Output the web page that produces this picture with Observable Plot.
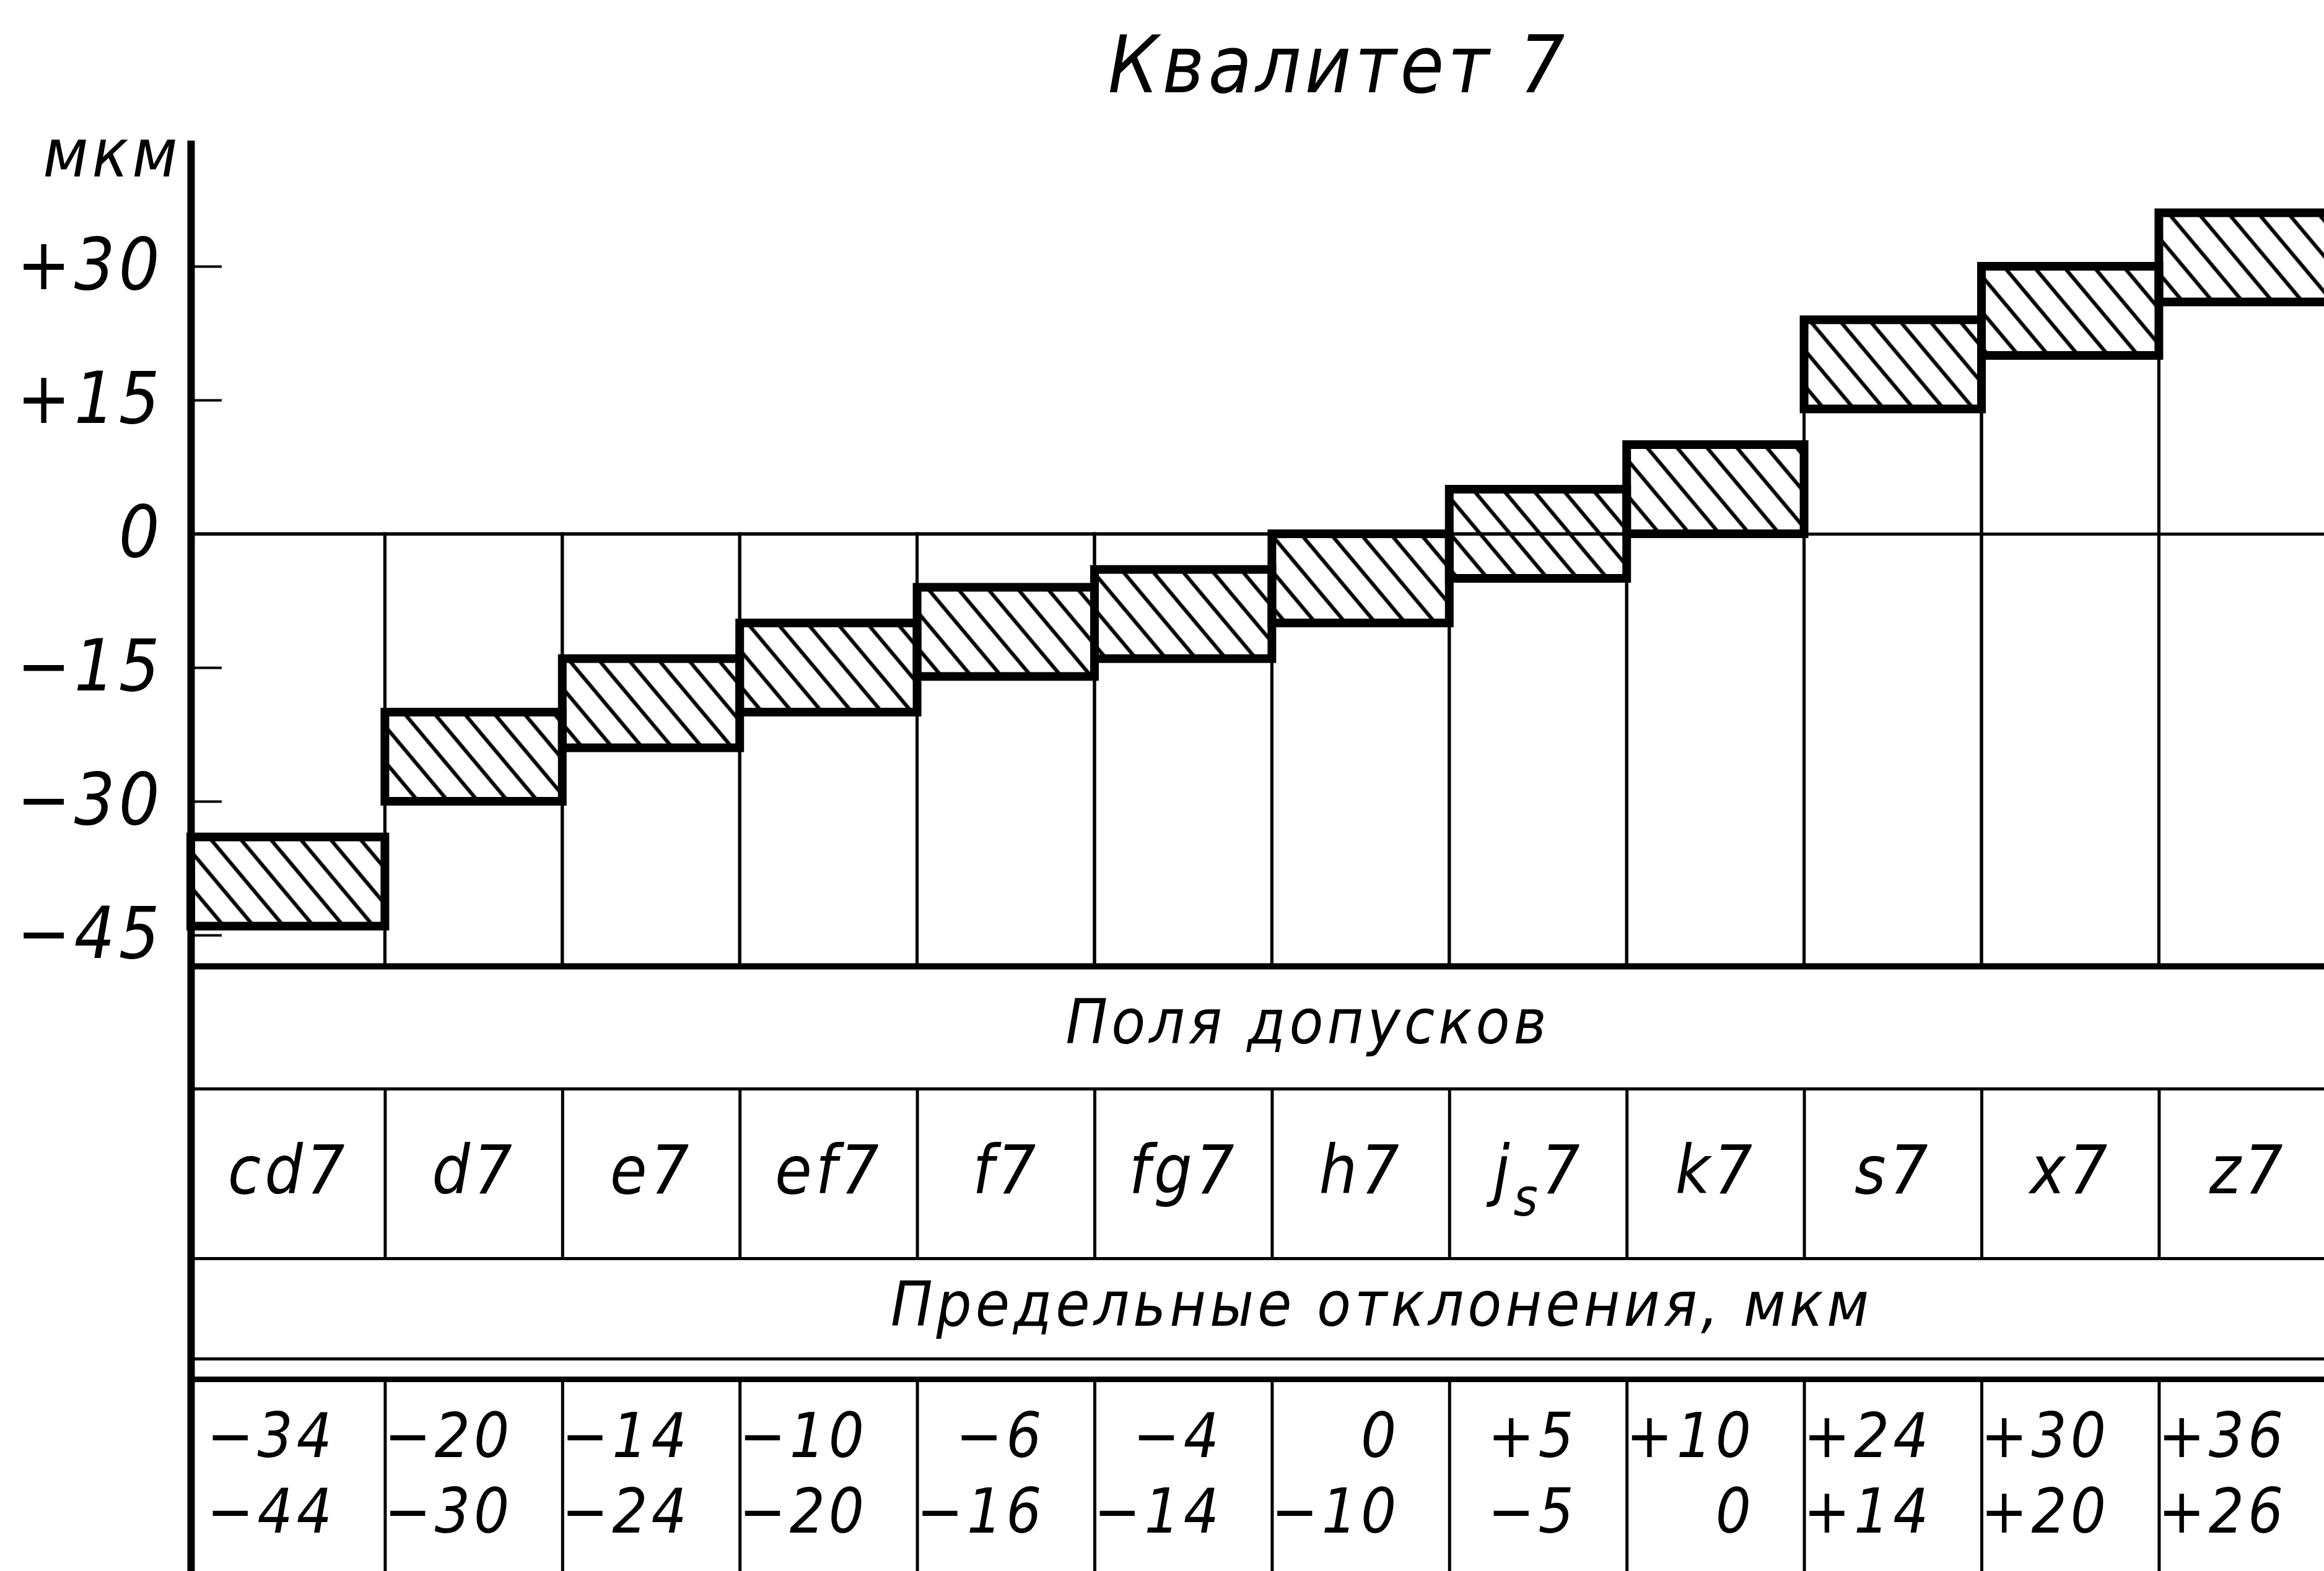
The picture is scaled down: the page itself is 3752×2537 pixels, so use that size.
<!DOCTYPE html>
<html>
<head>
<meta charset="utf-8">
<script src="https://cdn.jsdelivr.net/npm/d3@7"></script>
<script src="https://cdn.jsdelivr.net/npm/@observablehq/plot@0.6"></script>
<style>
  html, body { margin: 0; padding: 0; background: #fff; overflow: hidden; }
  #page svg { display: block; }
</style>
</head>
<body>
<div id="page"></div>
<script>
// ---- data ----
const categories = ["cd7", "d7", "e7", "ef7", "f7", "fg7", "h7", "js7", "k7", "s7", "x7", "z7"];
const upperDeviation = [-34, -20, -14, -10, -6, -4, 0, 5, 10, 24, 30, 36];
const lowerDeviation = [-44, -30, -24, -20, -16, -14, -10, -5, 0, 14, 20, 26];
const yTicks = [30, 15, 0, -15, -30, -45];
const titleText = "Квалитет 7";
const unitText = "мкм";
const rowTitleFields = "Поля допусков";
const rowTitleLimits = "Предельные отклонения, мкм";

const fmt = v => v > 0 ? "+" + v : v < 0 ? "\u2212" + (-v) : "0";

// ---- layout ----
const W = 3752, H = 2537;
const chartH = 1580, tableH = H - chartH;
const left = 308;                 // y-axis line position (px)
const colStartPx = 335, colW = 286.4;
const n = categories.length;
const axisX = (left - colStartPx) / colW;   // axis position in column units
const colStart = i => i === 0 ? axisX : i;
const colMid = i => (colStart(i) + i + 1) / 2;
const rows = categories.map((cat, i) => ({i, cat, es: upperDeviation[i], ei: lowerDeviation[i], x1: colStart(i), x2: i + 1, xm: colMid(i)}));
const boundaries = d3.range(n + 1).map(colStart);

const zeroPx = 862, pxPerUm = 14.4;
const yDomain = [(zeroPx - chartH) / pxPerUm, zeroPx / pxPerUm];
const baseline = (zeroPx - 1560) / pxPerUm;
const axisTop = (zeroPx - 227) / pxPerUm;
const tickLen = 50 / colW;
const rootStyle = {
  background: "white",
  overflow: "hidden",
  fontFamily: "'DejaVu Sans Condensed', 'DejaVu Sans', sans-serif",
  fontStyle: "italic",
  fontSize: "100px",
  letterSpacing: "6px",
  color: "black"
};
const xScale = {domain: [0, n], range: [colStartPx, colStartPx + n * colW], axis: null};

// ---- chart ----
const chart = Plot.plot({
  width: W, height: chartH,
  marginLeft: left, marginRight: 0, marginTop: 0, marginBottom: 0,
  style: rootStyle,
  x: xScale,
  y: {domain: yDomain, range: [chartH, 0], axis: null},
  marks: [
    Plot.ruleY([0], {x1: axisX, x2: n, stroke: "black", strokeWidth: 5}),
    Plot.rect(rows, {x1: "x1", x2: "x2", y1: d => Math.max(0, d.ei), y2: baseline, fill: "none", stroke: "black", strokeWidth: 5}),
    Plot.rect(rows, {x1: "x1", x2: "x2", y1: "ei", y2: "es", fill: "url(#hatch)", stroke: "black", strokeWidth: 14}),
    Plot.ruleY([baseline], {x1: axisX, x2: n, stroke: "black", strokeWidth: 10}),
    Plot.ruleX([axisX], {y1: axisTop, y2: yDomain[0], stroke: "black", strokeWidth: 12}),
    Plot.ruleY(yTicks, {x1: axisX, x2: axisX + tickLen, stroke: "black", strokeWidth: 4}),
    Plot.text(yTicks, {x: axisX, y: d => d, text: fmt, textAnchor: "end", dx: -45, fontSize: 115, fill: "black"}),
    Plot.text([titleText], {frameAnchor: "top", lineAnchor: "middle", dx: 130, dy: 108, fontSize: 128, fill: "black"}),
    Plot.text([unitText], {frameAnchor: "top-left", lineAnchor: "middle", textAnchor: "end", dx: -16, dy: 250, fontSize: 108, fill: "black"})
  ]
});

const svgC = d3.select(chart);
const pat = svgC.insert("defs", ":first-child").append("pattern")
  .attr("id", "hatch").attr("patternUnits", "userSpaceOnUse")
  .attr("width", 37).attr("height", 37).attr("patternTransform", "rotate(-40)");
pat.append("line").attr("x1", 18.5).attr("y1", -5).attr("x2", 18.5).attr("y2", 42)
  .attr("stroke", "black").attr("stroke-width", 6);

// ---- table ----
const T = {line1: 178, line2: 452, dbl1: 614, dbl2: 647, fieldsY: 72, labelY: 312, limitsY: 528, esY: 740, eiY: 862};
const table = Plot.plot({
  width: W, height: tableH,
  marginLeft: left, marginRight: 0, marginTop: 0, marginBottom: 0,
  style: rootStyle,
  x: xScale,
  y: {domain: [0, tableH], range: [0, tableH], axis: null},
  marks: [
    Plot.ruleY([T.line1, T.line2, T.dbl1], {x1: axisX, x2: n, stroke: "black", strokeWidth: 5}),
    Plot.ruleY([T.dbl2], {x1: axisX, x2: n, stroke: "black", strokeWidth: 9}),
    Plot.ruleX(boundaries, {y1: T.line1, y2: T.line2, stroke: "black", strokeWidth: 5}),
    Plot.ruleX(boundaries, {y1: T.dbl2, y2: tableH, stroke: "black", strokeWidth: 5}),
    Plot.ruleX([axisX], {y1: 0, y2: tableH, stroke: "black", strokeWidth: 12}),
    Plot.text([rowTitleFields], {frameAnchor: "top", lineAnchor: "middle", dx: 81, dy: T.fieldsY, fontSize: 100, fill: "black"}),
    Plot.text([rowTitleLimits], {frameAnchor: "top", lineAnchor: "middle", dx: 200, dy: T.limitsY, fontSize: 100, fill: "black"}),
    Plot.text(rows, {x: "xm", y: () => T.labelY, text: "cat", fontSize: 108, fill: "black"}),
    Plot.text(rows, {x: "x2", y: () => T.esY, text: d => fmt(d.es), textAnchor: "end", dx: -80, fontSize: 100, fill: "black"}),
    Plot.text(rows, {x: "x2", y: () => T.eiY, text: d => fmt(d.ei), textAnchor: "end", dx: -80, fontSize: 100, fill: "black"})
  ]
});

// subscript for the js7 label
d3.select(table).selectAll("text").filter(function () { return this.textContent === "js7"; })
  .each(function () {
    const t = d3.select(this);
    t.text(null);
    t.append("tspan").text("j");
    t.append("tspan").attr("dy", 36).attr("font-size", 84).text("s");
    t.append("tspan").attr("dy", -36).text("7");
  });

const page = document.getElementById("page");
page.appendChild(chart);
page.appendChild(table);
</script>
</body>
</html>
